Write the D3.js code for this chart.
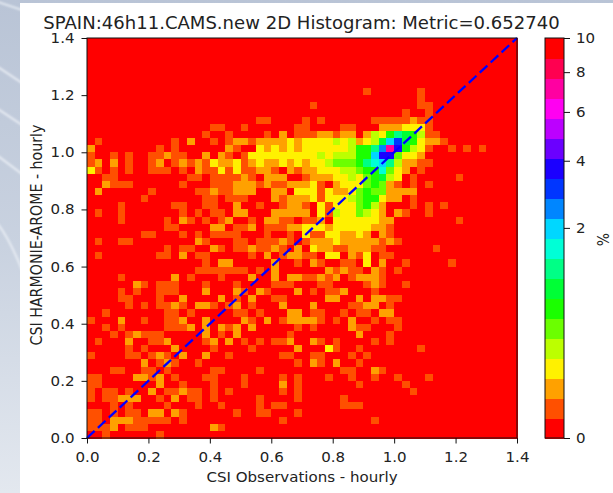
<!DOCTYPE html>
<html>
<head>
<meta charset="utf-8">
<script src="https://cdn.jsdelivr.net/npm/d3@7"></script>
<style>
html,body{margin:0;padding:0;background:#fff;overflow:hidden}
svg{display:block}
text{font-family:"DejaVu Sans",sans-serif;fill:#222}
</style>
</head>
<body>
<div id="chart"></div>
<script>
// Chart text
const chartTitle = "SPAIN:46h11.CAMS.new 2D Histogram: Metric=0.652740";
const xLabel = "CSI Observations - hourly";
const yLabel = "CSI HARMONIE-AROME - hourly";
const barLabel = "%";

// Axis ticks
const axisTicks = [0, 0.2, 0.4, 0.6, 0.8, 1.0, 1.2, 1.4];
const barTicks = [0, 2, 4, 6, 8, 10];
const axisDomain = [0, 1.4];
const barDomain = [0, 10];
const binCount = 56;
const diagonal = [0, 1.4];

// Colour bands of the bar (bottom to top) and a representative % for each
const bandColours = ["#ff0000","#ff5000","#ffa100","#fff100","#bcff00","#6bff00","#1bff00","#00ff36","#00ff86","#00ffd6",
  "#00d7ff","#0086ff","#0036ff","#1b00ff","#6b00ff","#bc00ff","#ff00f1","#ff00a1","#ff0050","#ff0000"];
const bandPercent = [0, 0.015, 0.055, 0.128, 0.24, 0.40, 0.60, 0.86, 1.18, 1.56, 2.0, 2.5, 3.1, 3.7, 4.5, 5.3, 6.2, 7.2, 8.2, 9.4];

// Histogram: one string per row, top (y=1.4) to bottom (y=0).
// Each character is a colour band (0-9, a-j) of a bin, left (x=0) to right (x=1.4).
const histogramRows = [
"", "", "", "", "", "", "",
"0000000000 0000000000 0000000000 0000001000 0001000000",
"0000000000 0000000000 0000000000 0000000000 0001000000",
"0000000000 0000000000 0000000001 0000000000 0001100000",
"0000000000 0000000000 0000000000 0000000000 0100100000",
"0000000000 0000000000 0011000010 1000000111 1121100000",
"0000000000 0000001100 1000000110 0001100022 2333100000",
"0000000000 0000010010 0001020111 2212202436 8764110000",
"0100000000 0102001012 2122223233 334342347a c763221000",
"2000000001 0100000021 0032323233 33334668bh d643100101 010000",
"1001010011 2110020210 1333333333 4344466add 5332000000",
"1202010012 0121213223 1232232323 34555689a8 4221100000",
"3101010011 1010211313 1122102122 3334456695 3201000000",
"0011000000 0001101111 2102220012 2233435674 3010000010",
"0021110000 0010001112 2212112223 1023335652 1010100000",
"0200000010 0000112112 2200220333 1322356552 2220000000",
"0000000100 0000011011 1000212223 1333456632 2010000000",
"0000100000 0110011002 0010012210 3133356420 0010101000",
"0100100000 0010101102 2000222220 3143354320 2100100000",
"0000100000 1021010120 0102211011 2033333322 0000000010",
"0000000000 1100002201 1201112233 3233333221 0000000000",
"0000000110 0010101111 0001001031 1332232021 0000000000",
"0100110000 0000210001 1011121012 2232222212 1000000000",
"0000000000 1011002101 1211210203 2211222110 0000010000",
"0100000001 1020110000 0102012211 0330213011 0000000000",
"0000000000 0000010220 0000200102 1001103020 0100000100",
"0000000000 0000111111 1010200000 0212110210 1000000000",
"0000100000 0201000100 0200202211 2120122210 0000000000",
"0000002101 1100010001 0000111000 1100001210 0100000000",
"0000101001 1100020002 1021000201 0112000100 0000000000",
"0000110001 0020000201 0200110000 0220020221 1000000000",
"0000010101 1210221012 0100020002 0000112201 0000000000",
"0010000000 1101000001 1010002201 1001011022 0000000000",
"1000200100 1120020000 2102012222 1010200101 1000000000",
"0010100000 1112020212 0200000101 0000211000 1000000000",
"0001012111 0000020102 0000001000 0000020001 0000000000",
"0100020011 2000012020 1010112002 1010000101 0000000000",
"0000010100 0200001000 0100000200 0310010000 0001000000",
"1000011012 1020020010 0000011001 1000101000 0000000000",
"0000000201 2100100000 0000000102 1020010000 0000000000",
"0001100110 1000001100 0010000000 0001100210 0000000000",
"1100002212 0100011000 1000010100 0100100100 1000100000",
"1100000002 0010001000 1000020100 0000010000 0100000000",
"1011010020 1121101010 0000010100 0000000000 0010000000",
"1011222001 0201101000 0010000100 0001000000 0000000000",
"0001010000 1000100100 0010110000 0001110000 0000000000",
"1101011022 0210000001 0011000100 0000000000 0000000000",
"1102221111 1010000000 0000010000 0000000100 0000000000",
"1112011100 0000002100 0000000000 0000000000 0000000000",
"0010000001 0000000000 0000000000 0000000000 0000000000"
];

// Layout
const W = 613, H = 493;
const plot = {left: 87, right: 517, top: 38, bottom: 438};
const bar = {left: 545, right: 564};
const stretch = 1.075;   // the reference picture is wider than it is tall

const svg = d3.select("#chart").append("svg").attr("width", W).attr("height", H);
const defs = svg.append("defs");

// Backdrop behind the white figure
const grad = defs.append("linearGradient").attr("id","bg").attr("x1",0).attr("y1",0).attr("x2",0).attr("y2",1);
grad.append("stop").attr("offset",0).attr("stop-color","#b9c4d6");
grad.append("stop").attr("offset",0.5).attr("stop-color","#c9d2e0");
grad.append("stop").attr("offset",1).attr("stop-color","#e3e8ef");
defs.append("filter").attr("id","soft").append("feGaussianBlur").attr("stdDeviation",0.9);
svg.append("rect").attr("width",W).attr("height",H).attr("fill","url(#bg)");
svg.append("g").attr("filter","url(#soft)").attr("fill","none").attr("stroke","#eef2f7").attr("stroke-width",1.6)
  .selectAll("path")
  .data(["M-2,2L22,10","M-2,67L22,83","M-2,109L22,125","M-2,156L22,174","M-2,224Q10,240 22,270"])
  .join("path").attr("d", d => d);
svg.append("rect").attr("x",20).attr("y",3).attr("width",W-20).attr("height",H-3).attr("fill","#fff");

// Scales
const x = d3.scaleLinear().domain(axisDomain).range([plot.left, plot.right]);
const y = d3.scaleLinear().domain(axisDomain).range([plot.bottom, plot.top]);
const norm = d3.scalePow().exponent(0.4).domain(barDomain).range([0, 1]);
const colour = d3.scaleQuantize().domain([0, 1]).range(bandColours);
const barY = d3.scalePow().exponent(0.4).domain(barDomain).range([plot.bottom, plot.top]);

// Histogram cells
const step = (axisDomain[1] - axisDomain[0]) / binCount;
const cells = [];
histogramRows.forEach((row, r) => {
  const s = row.replace(/ /g, "").padEnd(binCount, "0");
  for (let c = 0; c < binCount; c++) {
    cells.push({
      x0: c * step,
      y1: axisDomain[1] - r * step,
      pct: bandPercent[parseInt(s[c], 36)]
    });
  }
});
svg.append("g").attr("shape-rendering","crispEdges").selectAll("rect").data(cells).join("rect")
  .attr("x", d => x(d.x0))
  .attr("y", d => y(d.y1))
  .attr("width", x(step) - x(0) + 0.5)
  .attr("height", y(0) - y(step) + 0.5)
  .attr("fill", d => colour(norm(d.pct)));

// 1:1 line
const line = d3.line().x(d => x(d)).y(d => y(d));
svg.append("path").datum(diagonal).attr("d", line).attr("fill","none")
  .attr("stroke","#0000ff").attr("stroke-width",2.3).attr("stroke-dasharray","10.4,4.5");

// Axes
const fmt = d3.format(".1f");
function styleAxis(g){
  g.selectAll("text").style("font-size","14px").style("fill","#222")
    .each(function(){
      const t = d3.select(this), tx = +t.attr("x") || 0;
      t.attr("x", 0).attr("transform", `translate(${tx},0) scale(${stretch},1)`);
    });
  g.selectAll("line").attr("stroke","#111").attr("stroke-width",1);
  g.select(".domain").remove();
}
svg.append("g").attr("transform",`translate(0,${plot.bottom})`)
  .call(d3.axisBottom(x).tickValues(axisTicks).tickFormat(fmt).tickSize(5.5).tickPadding(8.3)).call(styleAxis);
svg.append("g").attr("transform",`translate(${plot.left},0)`)
  .call(d3.axisLeft(y).tickValues(axisTicks).tickFormat(fmt).tickSize(5.5).tickPadding(7)).call(styleAxis);
svg.append("rect").attr("x",plot.left).attr("y",plot.top).attr("width",plot.right-plot.left).attr("height",plot.bottom-plot.top)
  .attr("fill","none").attr("stroke","#111").attr("stroke-width",1);

// Colour bar
const bands = bandColours.map((c, k) => ({c, lo: k / bandColours.length, hi: (k + 1) / bandColours.length}));
const barFrac = d3.scaleLinear().domain([0, 1]).range([plot.bottom, plot.top]);
svg.append("g").attr("shape-rendering","crispEdges").selectAll("rect").data(bands).join("rect")
  .attr("x", bar.left).attr("width", bar.right - bar.left)
  .attr("y", d => barFrac(d.hi)).attr("height", d => barFrac(d.lo) - barFrac(d.hi) + 0.5)
  .attr("fill", d => d.c);
svg.append("g").attr("transform",`translate(${bar.right},0)`)
  .call(d3.axisRight(barY).tickValues(barTicks).tickFormat(d3.format("d")).tickSize(6).tickPadding(6)).call(styleAxis);
svg.append("rect").attr("x",bar.left).attr("y",plot.top).attr("width",bar.right-bar.left).attr("height",plot.bottom-plot.top)
  .attr("fill","none").attr("stroke","#111").attr("stroke-width",1);

// Labels
svg.append("text").attr("transform",`translate(301.5,28.5) scale(${stretch},1)`).attr("text-anchor","middle").style("font-size","16.8px").text(chartTitle);
svg.append("text").attr("transform",`translate(302,481.5) scale(${stretch},1)`).attr("text-anchor","middle").style("font-size","14px").text(xLabel);
svg.append("text").attr("transform",`translate(42,235) scale(${stretch},1) rotate(-90)`).attr("text-anchor","middle").style("font-size","14.2px").text(yLabel);
svg.append("text").attr("transform",`translate(608.5,239.5) scale(${stretch},1) rotate(-90)`).attr("text-anchor","middle").style("font-size","14px").text(barLabel);
</script>
</body>
</html>
